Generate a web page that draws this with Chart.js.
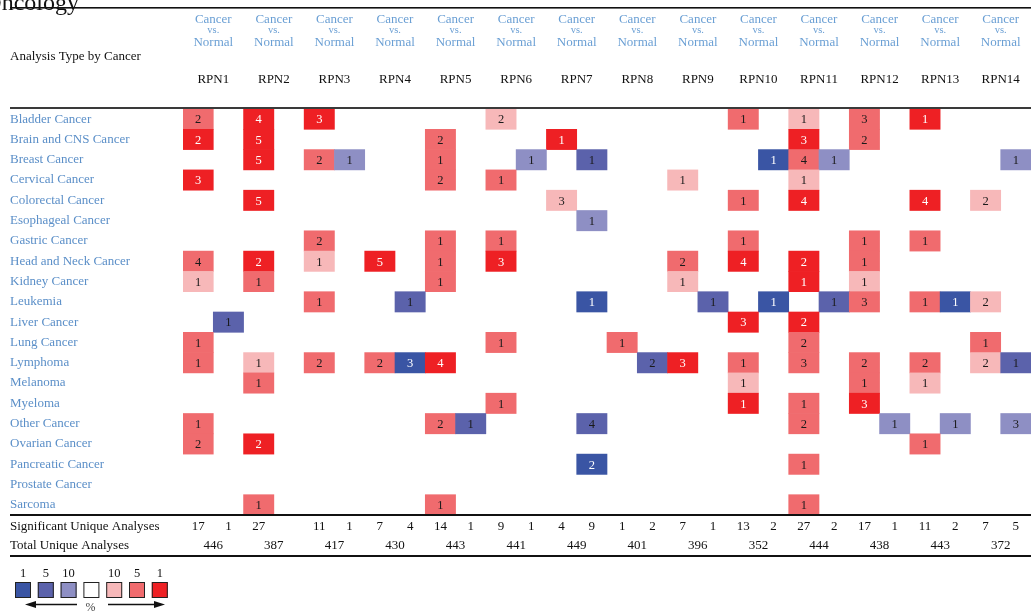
<!DOCTYPE html>
<html>
<head>
<meta charset="utf-8">
<title>RPN expression by cancer type</title>
<script src="https://cdn.jsdelivr.net/npm/chart.js@4.4.1/dist/chart.umd.min.js"></script>
<style>
  html, body { margin: 0; padding: 0; background: #fff; overflow: hidden; }
  #wrap { position: relative; width: 1031px; height: 614px; }
</style>
</head>
<body>
<div id="wrap"><canvas id="heat" width="1031" height="614"></canvas></div>
<script>
// ---- data ----------------------------------------------------------------
const genes = ['RPN1','RPN2','RPN3','RPN4','RPN5','RPN6','RPN7','RPN8','RPN9','RPN10','RPN11','RPN12','RPN13','RPN14'];

const cancers = [
  'Bladder Cancer','Brain and CNS Cancer','Breast Cancer','Cervical Cancer','Colorectal Cancer',
  'Esophageal Cancer','Gastric Cancer','Head and Neck Cancer','Kidney Cancer','Leukemia',
  'Liver Cancer','Lung Cancer','Lymphoma','Melanoma','Myeloma',
  'Other Cancer','Ovarian Cancer','Pancreatic Cancer','Prostate Cancer','Sarcoma'
];

// number of analyses with significant over-expression, rows = cancers, cols = genes
const upCounts = [
  [2,4,3,0,0,2,0,0,0,1,1,3,1,0],
  [2,5,0,0,2,0,1,0,0,0,3,2,0,0],
  [0,5,2,0,1,0,0,0,0,0,4,0,0,0],
  [3,0,0,0,2,1,0,0,1,0,1,0,0,0],
  [0,5,0,0,0,0,3,0,0,1,4,0,4,2],
  [0,0,0,0,0,0,0,0,0,0,0,0,0,0],
  [0,0,2,0,1,1,0,0,0,1,0,1,1,0],
  [4,2,1,5,1,3,0,0,2,4,2,1,0,0],
  [1,1,0,0,1,0,0,0,1,0,1,1,0,0],
  [0,0,1,0,0,0,0,0,0,0,0,3,1,2],
  [0,0,0,0,0,0,0,0,0,3,2,0,0,0],
  [1,0,0,0,0,1,0,1,0,0,2,0,0,1],
  [1,1,2,2,4,0,0,0,3,1,3,2,2,2],
  [0,1,0,0,0,0,0,0,0,1,0,1,1,0],
  [0,0,0,0,0,1,0,0,0,1,1,3,0,0],
  [1,0,0,0,2,0,0,0,0,0,2,0,0,0],
  [2,2,0,0,0,0,0,0,0,0,0,0,1,0],
  [0,0,0,0,0,0,0,0,0,0,1,0,0,0],
  [0,0,0,0,0,0,0,0,0,0,0,0,0,0],
  [0,1,0,0,1,0,0,0,0,0,1,0,0,0]
];

// best gene-rank percentile reached by the over-expression analyses (1, 5 or 10 %)
const upTiers = [
  [5,1,1,0,0,10,0,0,0,5,10,5,1,0],
  [1,1,0,0,5,0,1,0,0,0,1,5,0,0],
  [0,1,5,0,5,0,0,0,0,0,5,0,0,0],
  [1,0,0,0,5,5,0,0,10,0,10,0,0,0],
  [0,1,0,0,0,0,10,0,0,5,1,0,1,10],
  [0,0,0,0,0,0,0,0,0,0,0,0,0,0],
  [0,0,5,0,5,5,0,0,0,5,0,5,5,0],
  [5,1,10,1,5,1,0,0,5,1,1,5,0,0],
  [10,5,0,0,5,0,0,0,10,0,1,10,0,0],
  [0,0,5,0,0,0,0,0,0,0,0,5,5,10],
  [0,0,0,0,0,0,0,0,0,1,1,0,0,0],
  [5,0,0,0,0,5,0,5,0,0,5,0,0,5],
  [5,10,5,5,1,0,0,0,1,5,5,5,5,10],
  [0,5,0,0,0,0,0,0,0,10,0,5,10,0],
  [0,0,0,0,0,5,0,0,0,1,5,1,0,0],
  [5,0,0,0,5,0,0,0,0,0,5,0,0,0],
  [5,1,0,0,0,0,0,0,0,0,0,0,5,0],
  [0,0,0,0,0,0,0,0,0,0,5,0,0,0],
  [0,0,0,0,0,0,0,0,0,0,0,0,0,0],
  [0,5,0,0,5,0,0,0,0,0,5,0,0,0]
];

// number of analyses with significant under-expression
const downCounts = [
  [0,0,0,0,0,0,0,0,0,0,0,0,0,0],
  [0,0,0,0,0,0,0,0,0,0,0,0,0,0],
  [0,0,1,0,0,1,1,0,0,1,1,0,0,1],
  [0,0,0,0,0,0,0,0,0,0,0,0,0,0],
  [0,0,0,0,0,0,0,0,0,0,0,0,0,0],
  [0,0,0,0,0,0,1,0,0,0,0,0,0,0],
  [0,0,0,0,0,0,0,0,0,0,0,0,0,0],
  [0,0,0,0,0,0,0,0,0,0,0,0,0,0],
  [0,0,0,0,0,0,0,0,0,0,0,0,0,0],
  [0,0,0,1,0,0,1,0,1,1,1,0,1,0],
  [1,0,0,0,0,0,0,0,0,0,0,0,0,0],
  [0,0,0,0,0,0,0,0,0,0,0,0,0,0],
  [0,0,0,3,0,0,0,2,0,0,0,0,0,1],
  [0,0,0,0,0,0,0,0,0,0,0,0,0,0],
  [0,0,0,0,0,0,0,0,0,0,0,0,0,0],
  [0,0,0,0,1,0,4,0,0,0,0,1,1,3],
  [0,0,0,0,0,0,0,0,0,0,0,0,0,0],
  [0,0,0,0,0,0,2,0,0,0,0,0,0,0],
  [0,0,0,0,0,0,0,0,0,0,0,0,0,0],
  [0,0,0,0,0,0,0,0,0,0,0,0,0,0]
];

const downTiers = [
  [0,0,0,0,0,0,0,0,0,0,0,0,0,0],
  [0,0,0,0,0,0,0,0,0,0,0,0,0,0],
  [0,0,10,0,0,10,5,0,0,1,10,0,0,10],
  [0,0,0,0,0,0,0,0,0,0,0,0,0,0],
  [0,0,0,0,0,0,0,0,0,0,0,0,0,0],
  [0,0,0,0,0,0,10,0,0,0,0,0,0,0],
  [0,0,0,0,0,0,0,0,0,0,0,0,0,0],
  [0,0,0,0,0,0,0,0,0,0,0,0,0,0],
  [0,0,0,0,0,0,0,0,0,0,0,0,0,0],
  [0,0,0,5,0,0,1,0,5,1,5,0,1,0],
  [5,0,0,0,0,0,0,0,0,0,0,0,0,0],
  [0,0,0,0,0,0,0,0,0,0,0,0,0,0],
  [0,0,0,1,0,0,0,5,0,0,0,0,0,5],
  [0,0,0,0,0,0,0,0,0,0,0,0,0,0],
  [0,0,0,0,0,0,0,0,0,0,0,0,0,0],
  [0,0,0,0,5,0,5,0,0,0,0,10,10,10],
  [0,0,0,0,0,0,0,0,0,0,0,0,0,0],
  [0,0,0,0,0,0,1,0,0,0,0,0,0,0],
  [0,0,0,0,0,0,0,0,0,0,0,0,0,0],
  [0,0,0,0,0,0,0,0,0,0,0,0,0,0]
];

// summary rows
const sigUp   = [17, 27, 11, 7, 14, 9, 4, 1, 7, 13, 27, 17, 11, 7];
const sigDown = [1, null, 1, 4, 1, 1, 9, 2, 1, 2, 2, 1, 2, 5];
const totalAnalyses = [446, 387, 417, 430, 443, 441, 449, 401, 396, 352, 444, 438, 443, 372];

// percentile tiers shown in the key
const legendTiers = [1, 5, 10];

// ---- styling -------------------------------------------------------------
const SERIF = '"Liberation Serif", "DejaVu Serif", "Times New Roman", serif';
const LINK_BLUE = '#5b8fc8';
const RED  = { 1: '#ee2024', 5: '#f06b6e', 10: '#f7b8b9' };
const BLUE = { 1: '#3a55a4', 5: '#5b62ab', 10: '#8e8fc4' };

function cellFill(c) {
  return c.dir === 'up' ? RED[c.tier] : BLUE[c.tier];
}

// one bar per non-empty cell: up in the left half of a gene column, down in the right half
const cells = [];
cancers.forEach((name, r) => {
  genes.forEach((g, gi) => {
    if (upCounts[r][gi]) {
      cells.push({ x: [2 * gi, 2 * gi + 1], y: name, n: upCounts[r][gi], tier: upTiers[r][gi], dir: 'up' });
    }
    if (downCounts[r][gi]) {
      cells.push({ x: [2 * gi + 1, 2 * gi + 2], y: name, n: downCounts[r][gi], tier: downTiers[r][gi], dir: 'down' });
    }
  });
});

// ---- drawing helpers -----------------------------------------------------
function text(ctx, str, x, y, size, color, align) {
  ctx.font = size + 'px ' + SERIF;
  ctx.fillStyle = color;
  ctx.textAlign = align || 'center';
  ctx.textBaseline = 'alphabetic';
  ctx.fillText(str, x, y);
}

const cellNumbers = {
  id: 'cellNumbers',
  afterDatasetsDraw(chart) {
    const ctx = chart.ctx;
    const meta = chart.getDatasetMeta(0);
    ctx.save();
    ctx.font = '12.5px ' + SERIF;
    ctx.textAlign = 'center';
    ctx.textBaseline = 'middle';
    meta.data.forEach((el, i) => {
      const c = chart.data.datasets[0].data[i];
      const p = el.getCenterPoint();
      ctx.fillStyle = c.tier === 1 ? '#ffffff' : '#1a1a1a';
      ctx.fillText(String(c.n), p.x, p.y + 1);
    });
    ctx.restore();
  }
};

const tableFrame = {
  id: 'tableFrame',
  afterDraw(chart) {
    const ctx = chart.ctx;
    const xs = chart.scales.x;
    const W = chart.width;
    ctx.save();

    // running page heading above the table
    text(ctx, 'Oncology', 79, 10, 24, '#111', 'right');

    // rules
    ctx.fillStyle = '#111';
    ctx.fillRect(10, 7, W - 10, 1.6);
    ctx.fillStyle = '#3a3a3a';
    ctx.fillRect(10, 107, W - 10, 2);
    ctx.fillStyle = '#111';
    ctx.fillRect(10, 514, W - 10, 2);
    ctx.fillRect(10, 555, W - 10, 2);

    // column header
    text(ctx, 'Analysis Type by Cancer', 10, 60, 13, '#111', 'left');
    genes.forEach((g, gi) => {
      const cx = xs.getPixelForValue(2 * gi + 1);
      text(ctx, 'Cancer', cx, 22.5, 13, '#6a9fd4');
      text(ctx, 'vs.', cx, 33, 10.5, '#6a9fd4');
      text(ctx, 'Normal', cx, 45.5, 13, '#6a9fd4');
      text(ctx, g, cx, 83, 13, '#111');
    });

    // summary rows
    text(ctx, 'Significant Unique Analyses', 10, 529.5, 13, '#111', 'left');
    text(ctx, 'Total Unique Analyses', 10, 549, 13, '#111', 'left');
    genes.forEach((g, gi) => {
      if (sigUp[gi] != null) text(ctx, String(sigUp[gi]), xs.getPixelForValue(2 * gi + 0.5), 529.5, 13, '#111');
      if (sigDown[gi] != null) text(ctx, String(sigDown[gi]), xs.getPixelForValue(2 * gi + 1.5), 529.5, 13, '#111');
      text(ctx, String(totalAnalyses[gi]), xs.getPixelForValue(2 * gi + 1), 549, 13, '#111');
    });

    // colour key: under-expressed (blue) ... none ... over-expressed (red)
    const keyTiers = legendTiers.map(t => ({ t, dir: 'down' }))
      .concat([{ t: null, dir: null }])
      .concat(legendTiers.slice().reverse().map(t => ({ t, dir: 'up' })));
    keyTiers.forEach((k, i) => {
      const x = 15 + i * 22.8;
      ctx.fillStyle = k.dir === 'down' ? BLUE[k.t] : k.dir === 'up' ? RED[k.t] : '#ffffff';
      ctx.fillRect(x, 582, 16, 16);
      ctx.strokeStyle = '#222';
      ctx.lineWidth = 1;
      ctx.strokeRect(x + 0.5, 582.5, 15, 15);
      if (k.t != null) text(ctx, String(k.t), x + 8, 577, 12.5, '#111');
    });

    // arrows either side of the % sign
    ctx.strokeStyle = '#111';
    ctx.fillStyle = '#111';
    ctx.lineWidth = 1.3;
    ctx.beginPath(); ctx.moveTo(34, 604.5); ctx.lineTo(77, 604.5); ctx.stroke();
    ctx.beginPath(); ctx.moveTo(25, 604.5); ctx.lineTo(36, 601); ctx.lineTo(36, 608); ctx.closePath(); ctx.fill();
    ctx.beginPath(); ctx.moveTo(108, 604.5); ctx.lineTo(155, 604.5); ctx.stroke();
    ctx.beginPath(); ctx.moveTo(165, 604.5); ctx.lineTo(154, 601); ctx.lineTo(154, 608); ctx.closePath(); ctx.fill();
    text(ctx, '%', 90.5, 611, 12, '#444');

    ctx.restore();
  }
};

// ---- chart ---------------------------------------------------------------
new Chart(document.getElementById('heat'), {
  type: 'bar',
  data: {
    labels: cancers,
    datasets: [{
      data: cells,
      backgroundColor: ctx => cellFill(ctx.raw),
      borderWidth: 0,
      barPercentage: 1,
      categoryPercentage: 1
    }]
  },
  options: {
    indexAxis: 'y',
    responsive: false,
    animation: false,
    layout: { padding: { left: 10, right: 0, top: 109, bottom: 99 } },
    scales: {
      x: { type: 'linear', min: 0, max: genes.length * 2, display: false },
      y: {
        type: 'category',
        offset: true,
        grid: { display: false },
        border: { display: false },
        ticks: {
          color: LINK_BLUE,
          font: { family: SERIF, size: 13 },
          crossAlign: 'far',
          padding: 0,
          autoSkip: false
        },
        afterFit(scale) { scale.width = 173; }
      }
    },
    plugins: {
      legend: { display: false },
      tooltip: { enabled: false }
    }
  },
  plugins: [cellNumbers, tableFrame]
});
</script>
</body>
</html>
